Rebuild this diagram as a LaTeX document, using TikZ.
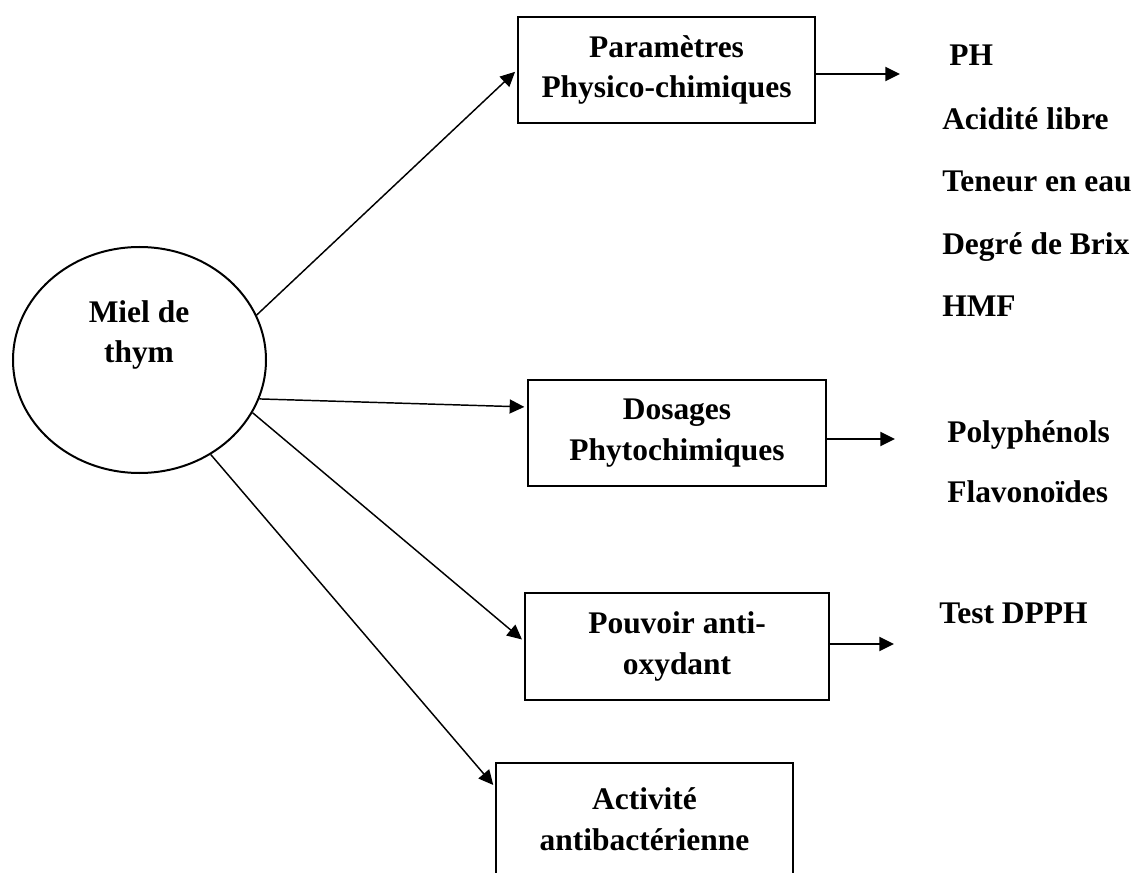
\documentclass[tikz,border=0pt]{standalone}
\usepackage{fontspec}
\setmainfont{Liberation Serif}
\usetikzlibrary{arrows.meta,shapes.geometric}
\begin{document}
\begin{tikzpicture}[x=0.75pt,y=-0.75pt,
  lbl/.style={font=\fontsize{23.6pt}{30.5pt}\selectfont\bfseries, inner sep=0pt},
  box/.style={lbl, draw, line width=1.5pt, rectangle, align=center,
              minimum width=222.75pt, minimum height=79.5pt},
  item/.style={lbl, anchor=base west},
  link/.style={line width=1.1pt, -{Triangle[length=11pt,width=10.5pt]}, shorten >=2pt},
  outarrow/.style={line width=1.4pt, -{Triangle[length=11pt,width=10.5pt]}}
]
\useasboundingbox (0,0) rectangle (1138,873);
\clip (0,0) rectangle (1138,873);

% central ellipse
\node[draw, ellipse, line width=1.5pt, inner sep=0pt,
      minimum width=189.75pt, minimum height=169.5pt] (miel) at (139.5,360) {};
\node[lbl, align=center, font=\fontsize{23.6pt}{29.3pt}\selectfont\bfseries]
      (mieltext) at (139,335) {Miel de\\thym};

% the four analysis boxes
\node[box] (phys) at (666.5,70) {Paramètres\\Physico-chimiques};
\node[box, minimum width=223.5pt] (dos) at (677,433) {Dosages\\Phytochimiques};
\node[box, minimum width=228pt, minimum height=80.25pt] (anti) at (677,646.5) {Pouvoir anti-\\oxydant};
\node[box, minimum height=84pt] (bact) at (644.5,819) {Activité\\antibactérienne};

% connectors from the ellipse
\draw[link] (miel.21.6) -- (phys.west);
\draw[link] (miel.-18) -- ([yshift=19.5pt]dos.west);
\draw[link] (miel.-25) -- ([yshift=4pt]anti.west);
\draw[link] (miel.-53) -- ([yshift=-18.75pt]bact.north west);

% outgoing arrows to the result lists
\coordinate (t1) at (900,74);
\coordinate (t2) at (895,439);
\coordinate (t3) at (894,644);
\draw[outarrow] (phys.east |- t1) -- (t1);
\draw[outarrow] (dos.east |- t2) -- (t2);
\draw[outarrow] (anti.east |- t3) -- (t3);

% result lists
\node[item] (ph)   at (949,66)  {PH};
\node[item] (acid) at (942,130) {Acidité libre};
\node[item] (eau)  at (942,192) {Teneur en eau};
\node[item] (brix) at (942,255) {Degré de Brix};
\node[item] (hmf)  at (942,317) {HMF};
\node[item] (poly) at (947,442) {Polyphénols};
\node[item] (flav) at (947,502) {Flavonoïdes};
\node[item] (dpph) at (939,623) {Test DPPH};
\end{tikzpicture}
\end{document}
